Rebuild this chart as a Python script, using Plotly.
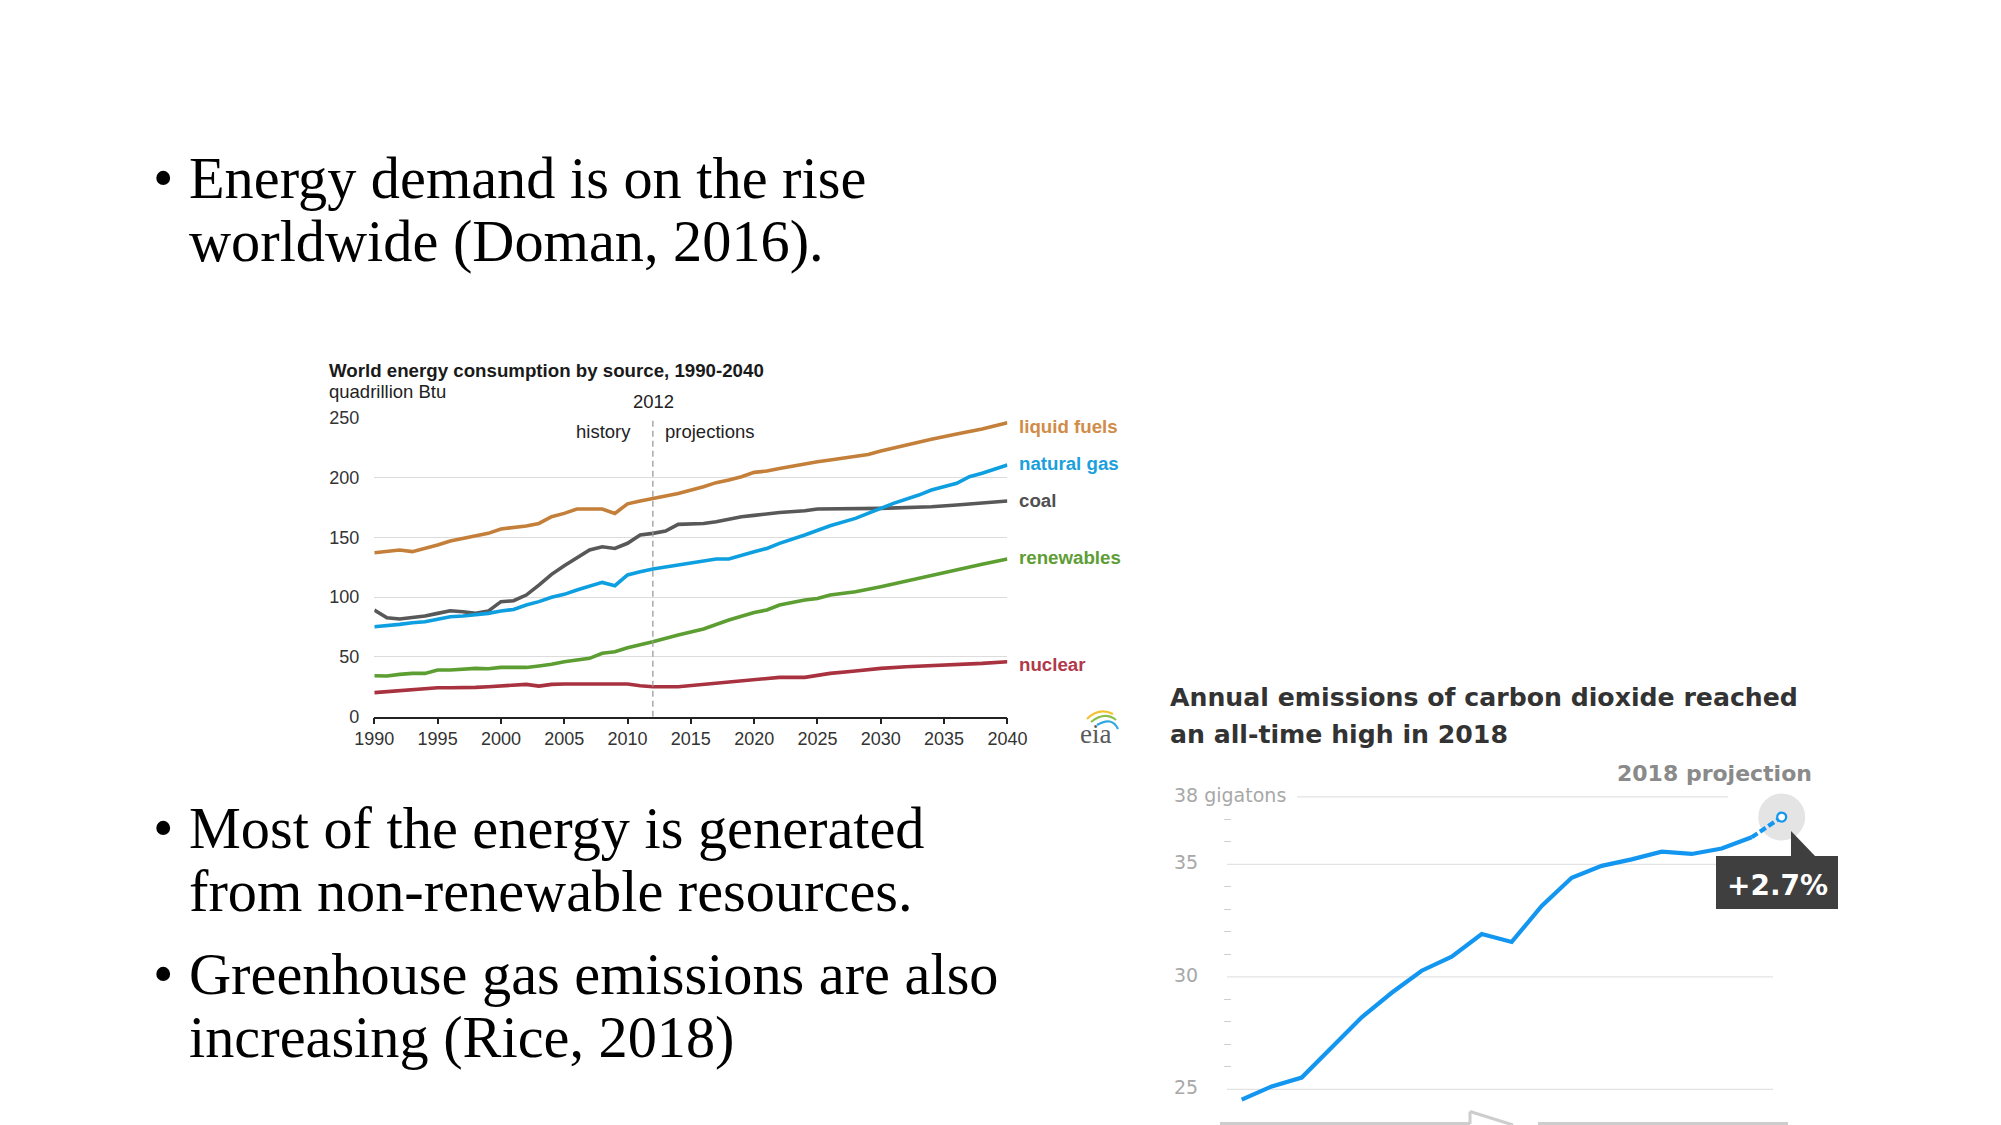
import plotly.graph_objects as go

W, H = 2001, 1125

# ---------------- Data: World energy consumption by source (quadrillion Btu) ----------------
hist_years = list(range(1990, 2013))
split_year = 2012

liquid_hist = [137.1, 138.0, 139.4, 138.0, 140.7, 143.5, 146.9, 149.0, 150.5, 153.3, 157.0, 158.0,
               159.4, 161.6, 167.2, 170.0, 173.6, 173.6, 173.6, 170.0, 178.0, 180.3, 182.5]
gas_hist = [75.2, 76.0, 77.2, 78.6, 79.4, 81.4, 83.6, 84.2, 85.0, 86.4, 88.3, 89.7,
            93.4, 96.2, 99.8, 102.3, 105.9, 109.3, 112.3, 109.5, 118.5, 121.2, 123.5]
coal_hist = [89.2, 82.8, 81.7, 82.8, 84.2, 86.4, 88.6, 87.8, 86.4, 88.3, 96.2, 97.0,
             101.7, 110.0, 119.0, 126.3, 133.0, 139.4, 142.1, 140.7, 145.0, 151.9, 153.3]
renew_hist = [34.3, 34.0, 35.4, 36.2, 36.2, 39.0, 39.0, 39.9, 40.4, 40.1, 41.2, 41.2,
              41.2, 42.4, 43.8, 46.0, 47.4, 48.8, 53.0, 54.3, 57.7, 59.9, 62.7]
nuclear_hist = [20.1, 20.9, 21.5, 22.3, 22.9, 24.2, 24.2, 24.2, 24.5, 25.1, 25.9, 26.5,
                27.0, 25.6, 27.0, 27.3, 27.3, 27.3, 27.3, 27.3, 27.3, 25.9, 25.1]

liquid_proj_years = [2014, 2016, 2017, 2018, 2019, 2020, 2021, 2022, 2023, 2024, 2025, 2026,
                     2027, 2028, 2029, 2030, 2032, 2034, 2036, 2038, 2040]
liquid_proj = [186.7, 192.3, 195.7, 197.9, 200.7, 204.3, 205.4, 207.6, 209.6, 211.8, 213.2, 214.6,
               216.0, 218.0, 219.3, 222.1, 227.1, 231.9, 236.3, 240.5, 245.8]

gas_proj_years = [2014, 2016, 2017, 2018, 2019, 2020, 2021, 2022, 2024, 2026, 2028, 2030,
                  2031, 2033, 2034, 2036, 2037, 2038, 2040]
gas_proj = [126.8, 130.2, 131.8, 131.8, 135.2, 138.0, 140.7, 144.9, 151.9, 159.7, 165.8, 174.7,
            178.4, 185.3, 189.5, 195.1, 200.7, 203.5, 210.4]

coal_proj_years = [2013, 2014, 2016, 2017, 2018, 2019, 2020, 2022, 2024, 2025, 2030, 2032,
                   2034, 2036, 2038, 2040]
coal_proj = [155.2, 160.8, 161.6, 163.0, 165.0, 167.2, 168.3, 170.8, 172.2, 173.6, 174.2, 174.7,
             175.6, 177.0, 178.4, 180.3]

renew_proj_years = [2014, 2016, 2018, 2020, 2021, 2022, 2024, 2025, 2026, 2028, 2030, 2032,
                    2034, 2036, 2038, 2040]
renew_proj = [68.3, 73.3, 80.8, 87.2, 89.2, 93.4, 97.5, 98.9, 101.7, 104.5, 108.7, 113.4,
              118.5, 122.6, 127.4, 131.8]

nuclear_proj_years = [2014, 2016, 2018, 2020, 2022, 2024, 2026, 2028, 2030, 2032, 2034, 2036,
                      2038, 2040]
nuclear_proj = [25.1, 27.0, 29.3, 30.7, 32.9, 32.9, 36.2, 38.2, 40.4, 41.8, 42.6, 43.8, 44.6, 46.0]

series_names = ["liquid fuels", "natural gas", "coal", "renewables", "nuclear"]
x_ticks = list(range(1990, 2041, 5))
y_ticks = [0, 50, 100, 150, 200, 250]

# ---------------- Data: Annual CO2 emissions (gigatons) ----------------
co2_years = list(range(2000, 2018))
co2_vals = [24.54, 25.13, 25.52, 26.88, 28.2, 29.29, 30.27, 30.89, 31.9, 31.55,
            33.15, 34.4, 34.93, 35.22, 35.56, 35.46, 35.7, 36.2]
proj_year = 2018
proj_val = 37.1
proj_label = "+2.7%"
co2_ticks = [25, 30, 35, 38]
co2_tick_text = ["25", "30", "35", "38 gigatons"]
co2_minor = [26, 27, 28, 29, 31, 32, 33, 34, 36, 37]

# ---------------- Styles ----------------
line_colors = {"liquid fuels": "#C4803A", "natural gas": "#0E9FE0", "coal": "#585858",
               "renewables": "#5C9E31", "nuclear": "#A8323F"}
label_colors = {"liquid fuels": "#D08C48", "natural gas": "#1AA0DC", "coal": "#505050",
                "renewables": "#5E9D35", "nuclear": "#B0394A"}
SANS = "Liberation Sans"
SERIF = "Liberation Serif"
DV = "DejaVu Sans"
CO2_BLUE = "#1296F0"


def px(x):
    return x / W


def py(y):
    return 1 - y / H


def T(text, x, y, size, color="#000", family=SANS, xanchor="left", bold=False):
    return dict(text=f"<b>{text}</b>" if bold else text, x=px(x), y=py(y), xref="paper",
                yref="paper", xanchor=xanchor, yanchor="middle", showarrow=False,
                font=dict(size=size, color=color, family=family))


fig = go.Figure()

series = [
    ("nuclear", nuclear_hist, nuclear_proj_years, nuclear_proj),
    ("renewables", renew_hist, renew_proj_years, renew_proj),
    ("coal", coal_hist, coal_proj_years, coal_proj),
    ("natural gas", gas_hist, gas_proj_years, gas_proj),
    ("liquid fuels", liquid_hist, liquid_proj_years, liquid_proj),
]
for name, hv, p_years, pv in series:
    fig.add_trace(go.Scatter(x=hist_years + p_years, y=hv + pv, mode="lines", name=name,
                             line=dict(color=line_colors[name], width=3.6),
                             xaxis="x", yaxis="y", showlegend=False, hoverinfo="skip"))

# CO2 line
fig.add_trace(go.Scatter(x=co2_years, y=co2_vals, mode="lines",
                         line=dict(color=CO2_BLUE, width=4.2),
                         xaxis="x2", yaxis="y2", showlegend=False, hoverinfo="skip"))
fig.add_trace(go.Scatter(x=[co2_years[-1], proj_year], y=[co2_vals[-1], proj_val], mode="lines",
                         line=dict(color=CO2_BLUE, width=4.2, dash="7px,3px"),
                         xaxis="x2", yaxis="y2", showlegend=False, hoverinfo="skip"))
fig.add_trace(go.Scatter(x=[proj_year], y=[proj_val], mode="markers",
                         marker=dict(size=9, color="white", line=dict(color=CO2_BLUE, width=2.2)),
                         xaxis="x2", yaxis="y2", showlegend=False, hoverinfo="skip"))

# ---------------- Axes ----------------
x1_left, x1_right = 374.3, 1007.4
y1_bottom, y1_top = 716.7, 417.7

x2_left_px, x2_right_px = 1232.0, 1900.0
x2_origin_px, x2_px_per_year = 1241.7, 30.0
y2_top_px = 780.0
y2_ref_px, y2_px_per_unit = 1089.3, 22.5
x2_range = [co2_years[0] + (x2_left_px - x2_origin_px) / x2_px_per_year,
            co2_years[0] + (x2_right_px - x2_origin_px) / x2_px_per_year]
y2_range = [25 + (y2_ref_px - H) / y2_px_per_unit, 25 + (y2_ref_px - y2_top_px) / y2_px_per_unit]

fig.update_layout(
    width=W, height=H, autosize=False,
    margin=dict(l=0, r=0, t=0, b=0, pad=0, autoexpand=False),
    paper_bgcolor="white", plot_bgcolor="rgba(0,0,0,0)",
    xaxis=dict(domain=[px(x1_left), px(x1_right)], range=[1990, 2040], anchor="y",
               tickvals=x_ticks, ticks="outside", ticklen=6, tickwidth=1.5, tickcolor="#222",
               showline=True, linecolor="#222", linewidth=1.5, showgrid=False, zeroline=False,
               tickfont=dict(size=18, color="#333", family=SANS), ticklabelstandoff=-1,
               automargin=False, fixedrange=True),
    yaxis=dict(domain=[py(y1_bottom), py(y1_top)], range=[0, 250], anchor="x",
               tickvals=y_ticks, showgrid=True, gridcolor="#dcdcdc", gridwidth=1,
               zeroline=False, showline=False, ticks="",
               tickfont=dict(size=18, color="#333", family=SANS), ticklabelstandoff=14,
               automargin=False, fixedrange=True),
    xaxis2=dict(domain=[px(x2_left_px), px(x2_right_px)], range=x2_range, anchor="y2",
                visible=False, automargin=False, fixedrange=True),
    yaxis2=dict(domain=[0, py(y2_top_px)], range=y2_range, anchor="x2",
                tickvals=co2_ticks, showticklabels=False, ticks="", showgrid=False,
                zeroline=False, showline=False, automargin=False,
                minor=dict(tickvals=co2_minor, ticks="outside", ticklen=7, tickwidth=1.2,
                           tickcolor="#cfcfcf"),
                fixedrange=True),
)

shapes = []
# history / projections divider
shapes.append(dict(type="line", xref="x", yref="y", x0=split_year, x1=split_year, y0=0, y1=248,
                   line=dict(color="#9a9a9a", width=1.3, dash="6px,4px"), layer="above"))

# CO2 gridlines
for v in co2_ticks:
    if v == co2_ticks[-1]:
        x0, x1 = 1297, 1728
    else:
        x0, x1 = 1227, 1773
    shapes.append(dict(type="line", xref="paper", yref="y2", x0=px(x0), x1=px(x1), y0=v, y1=v,
                       line=dict(color="#e3e3e3", width=1.3), layer="below"))

# projection highlight circle
shapes.append(dict(type="circle", xref="x2", yref="y2", xsizemode="pixel", ysizemode="pixel",
                   xanchor=proj_year, yanchor=proj_val, x0=-23.5, x1=23.5, y0=-23.5, y1=23.5,
                   fillcolor="#e4e4e4", line=dict(width=0), layer="below"))

# callout box and pointer
shapes.append(dict(type="rect", xref="paper", yref="paper", x0=px(1716), x1=px(1838),
                   y0=py(909), y1=py(856), fillcolor="#3f3f3f", line=dict(width=0), layer="above"))
shapes.append(dict(type="path", xref="paper", yref="paper",
                   path=f"M {px(1791)} {py(831)} L {px(1791)} {py(857)} L {px(1816)} {py(857)} Z",
                   fillcolor="#3f3f3f", line=dict(width=0), layer="above"))

# bottom cropped frame of the emissions graphic
grey = "#cdcdcd"
for (xa, ya, xb, yb) in [(1220, 1123.5, 1470, 1123.5), (1470, 1124, 1470, 1111.5),
                         (1470, 1111.5, 1513, 1125), (1538, 1123.5, 1788, 1123.5)]:
    shapes.append(dict(type="line", xref="paper", yref="paper", x0=px(xa), y0=py(ya),
                       x1=px(xb), y1=py(yb), line=dict(color=grey, width=3), layer="above"))

# eia logo arcs
for (c, path_pts) in [("#F2C230", (1087, 719, 1099, 707, 1113, 714)),
                      ("#8CC04B", (1091, 722, 1105, 711, 1116, 720)),
                      ("#2FA8DF", (1097, 725, 1112, 716, 1118, 729))]:
    a, b, cx, cy, d, e = path_pts
    shapes.append(dict(type="path", xref="paper", yref="paper",
                       path=f"M {px(a)} {py(b)} Q {px(cx)} {py(cy)} {px(d)} {py(e)}",
                       line=dict(color=c, width=2.2), layer="above"))

fig.update_layout(shapes=shapes)

ann = []
# slide bullets
BULLET_SIZE = 58.3
bullet_lines = [
    (179.0, "Energy demand is on the rise", True),
    (241.6, "worldwide (Doman, 2016).", False),
    (828.6, "Most of the energy is generated", True),
    (891.3, "from non-renewable resources.", False),
    (974.3, "Greenhouse gas emissions are also", True),
    (1037.0, "increasing (Rice, 2018)", False),
]
for yc, txt, has_bullet in bullet_lines:
    ann.append(T(txt, 187, yc, BULLET_SIZE, "#000", SERIF))
    if has_bullet:
        ann.append(T("•", 163.0, yc, BULLET_SIZE, "#000", SERIF, xanchor="center"))

# EIA chart texts
ann.append(T("World energy consumption by source, 1990-2040", 327, 370.5, 18.7, "#1a1a1a", SANS, bold=True))
ann.append(T("quadrillion Btu", 327, 391.8, 18.5, "#222", SANS))
ann.append(T(str(split_year), 653, 401.8, 18.5, "#222", SANS, xanchor="center"))
ann.append(T("history", 633, 431.8, 18.5, "#222", SANS, xanchor="right"))
ann.append(T("projections", 663, 431.8, 18.5, "#222", SANS))
label_y = {"liquid fuels": 426.5, "natural gas": 463.8, "coal": 500.5,
           "renewables": 557.1, "nuclear": 664.8}
for name in series_names:
    ann.append(T(name, 1017, label_y[name], 18.7, label_colors[name], SANS, bold=True))
ann.append(T("eia", 1095.5, 733.5, 27, "#5a5a5a", SERIF, xanchor="center"))

# CO2 chart texts
ann.append(T("Annual emissions of carbon dioxide reached", 1168, 697.3, 25.2, "#333", DV, bold=True))
ann.append(T("an all-time high in 2018", 1168, 734.0, 25.2, "#333", DV, bold=True))
ann.append(T("2018 projection", 1814, 773.4, 22, "#8a8a8a", DV, xanchor="right", bold=True))
ann.append(T(proj_label, 1777, 885.0, 28, "white", DV, xanchor="center", bold=True))
for v, t in zip(co2_ticks, co2_tick_text):
    ann.append(dict(text=t, x=px(1172), y=v, xref="paper", yref="y2", xanchor="left",
                    yanchor="middle", yshift=2, showarrow=False,
                    font=dict(size=19, color="#a8a8a8", family=DV)))

fig.update_layout(annotations=ann)

fig.write_html("out.html", config={"displayModeBar": False},
               post_script="document.body.style.margin='0';document.body.style.overflow='hidden';")
